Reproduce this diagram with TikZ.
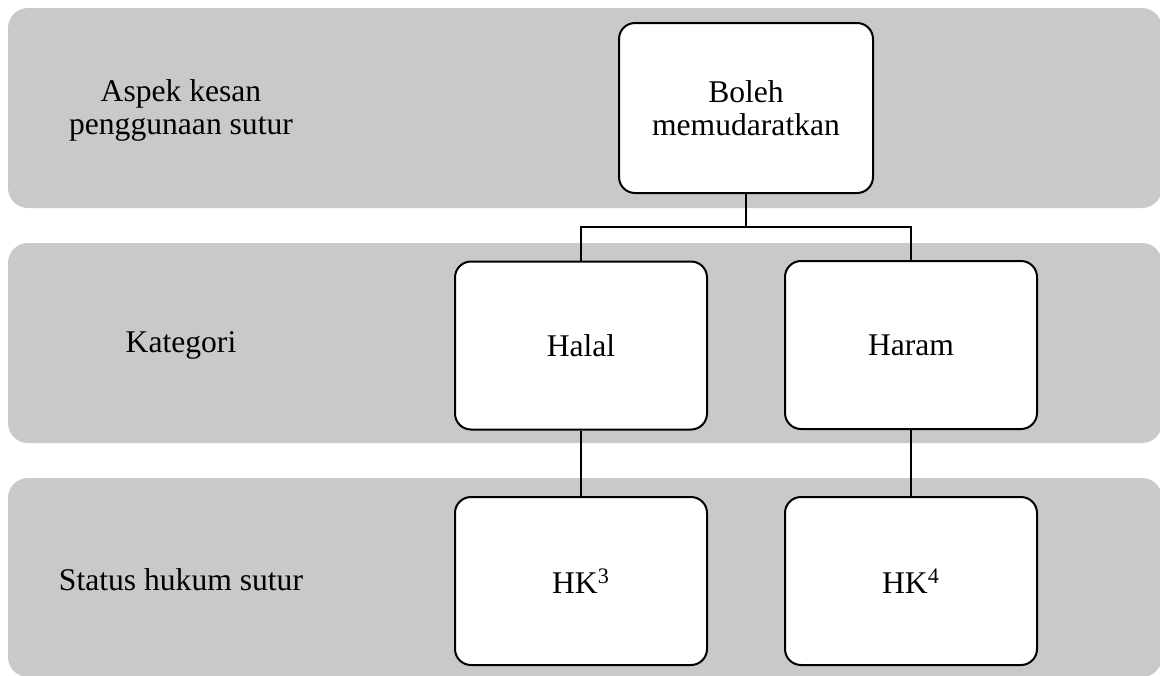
\documentclass[tikz,border=0pt]{standalone}
\usepackage{fontspec}
\setmainfont{Liberation Serif}
\usetikzlibrary{positioning}
\definecolor{bandgray}{HTML}{C9C9C9}

\begin{document}
\begin{tikzpicture}[x=0.5pt,y=-0.5pt,
  band/.style={fill=bandgray,draw=none,rounded corners=10pt},
  box/.style={draw=black,fill=white,line width=1pt,rounded corners=8pt,
    minimum width=126pt,minimum height=84pt,inner sep=0pt,align=center,
    font=\fontsize{15.8}{16.5}\selectfont},
  lbl/.style={align=center,inner sep=0pt,font=\fontsize{15.8}{16.5}\selectfont},
  link/.style={draw=black,line width=0.9pt}]
\useasboundingbox (0,0) rectangle (1160,675);
% bands
\fill[band] (8,8) rectangle (1162,208);
\fill[band] (8,243) rectangle (1162,443);
\fill[band] (8,478) rectangle (1162,677);
% row labels
\node[lbl] (aspek) at (181,110) {Aspek kesan\\penggunaan sutur};
\node[lbl] (kategori) at (181,345) {Kategori};
\node[lbl] (status) at (181,580) {Status hukum sutur};
% boxes
\node[box,minimum width=127pt,minimum height=85pt] (boleh) at (746,108) {Boleh\\memudaratkan};
\node[box] (halal) at (581,345.5) {Halal};
\node[box] (haram) at (911,345) {Haram};
\node[box] (hk3) at (581,581) {HK\textsuperscript{3}};
\node[box] (hk4) at (911,581) {HK\textsuperscript{4}};
% connectors
\coordinate (split) at (746,227);
\draw[link] (boleh.south) -- (split);
\draw[link] (halal.north) |- (split) -| (haram.north);
\draw[link] (halal.south) -- (hk3.north);
\draw[link] (haram.south) -- (hk4.north);
\end{tikzpicture}
\end{document}
